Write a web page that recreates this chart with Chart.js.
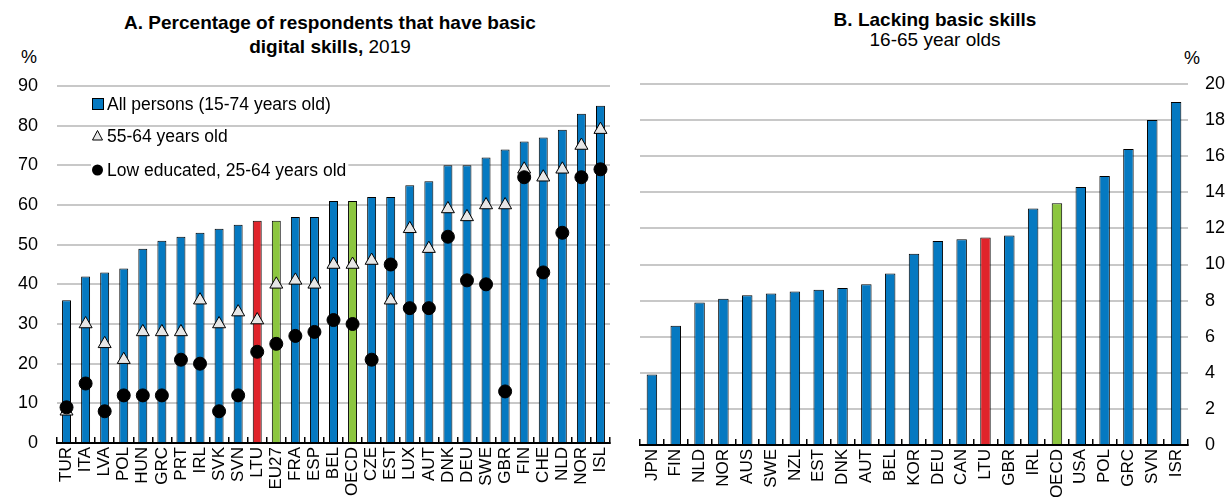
<!DOCTYPE html>
<html>
<head>
<meta charset="utf-8">
<script src="https://cdn.jsdelivr.net/npm/chart.js@4.4.1/dist/chart.umd.min.js"></script>
<style>
  html, body { margin: 0; padding: 0; background: #fff; }
  body { width: 1231px; height: 497px; position: relative; overflow: hidden;
         font-family: 'Liberation Sans', Arial, sans-serif; color: #000; }
  .box { position: absolute; top: 0; }
  .title { position: absolute; text-align: center; font-size: 19px; white-space: nowrap; }
  .unit { position: absolute; font-size: 18px; }
</style>
</head>
<body>
<div class="title" style="left:30px; width:600px; top:11px; line-height:24px;">
  <b>A. Percentage of respondents that have basic</b><br><b>digital skills,</b> 2019
</div>
<div class="title" style="left:735px; width:400px; top:10px; line-height:20px;">
  <b>B. Lacking basic skills</b><br>16-65 year olds
</div>
<div class="unit" style="left:21px; top:47px;">%</div>
<div class="unit" style="left:1184px; top:48px;">%</div>

<div class="box" style="left:0; width:620px; height:497px;"><canvas id="chartA" width="620" height="497"></canvas></div>
<div class="box" style="left:615px; width:616px; height:497px;"><canvas id="chartB" width="616" height="497"></canvas></div>

<script>
// Panel A: share of respondents with basic digital skills, 2019
const countriesA = ['TUR','ITA','LVA','POL','HUN','GRC','PRT','IRL','SVK','SVN','LTU','EU27','FRA','ESP','BEL','OECD','CZE','EST','LUX','AUT','DNK','DEU','SWE','GBR','FIN','CHE','NLD','NOR','ISL'];
const allPersons = [36,42,43,44,49,51,52,53,54,55,56,56,57,57,61,61,62,62,65,66,70,70,72,74,76,77,79,83,85];
const aged5564   = [8,30,25,21,28,28,28,36,30,33,31,40,41,40,45,45,46,36,54,49,59,57,60,60,69,67,69,75,79];
const lowEducated = [9,15,8,12,12,12,21,20,8,12,23,25,27,28,31,30,21,45,34,34,52,41,40,13,67,43,53,67,69];
const ticksA = [0,10,20,30,40,50,60,70,80,90];

// Panel B: adults lacking basic skills, 16-65 year olds
const countriesB = ['JPN','FIN','NLD','NOR','AUS','SWE','NZL','EST','DNK','AUT','BEL','KOR','DEU','CAN','LTU','GBR','IRL','OECD','USA','POL','GRC','SVN','ISR'];
const lackingSkills = [3.9,6.6,7.9,8.1,8.3,8.4,8.5,8.6,8.7,8.9,9.5,10.6,11.3,11.4,11.5,11.6,13.1,13.4,14.3,14.9,16.4,18.0,19.0];
const ticksB = [0,2,4,6,8,10,12,14,16,18,20];

const legendLabels = ['All persons (15-74 years old)', '55-64 years old', 'Low educated, 25-64 years old'];

const BLUE = '#0579c1', RED = '#e0242b', GREEN = '#8cc63f', GRID = '#c8c8c8', TRI = '#e6e6e6';
const FONT = "'Liberation Sans', Arial, sans-serif";

function barColour(c) {
  if (c === 'LTU') return RED;
  if (c === 'EU27' || c === 'OECD') return GREEN;
  return BLUE;
}

// Legend drawn inside the plot area of panel A
const insideLegend = {
  id: 'insideLegend',
  afterDraw(chart) {
    const ctx = chart.ctx;
    const x0 = 92, tx = 107;
    const rows = [104, 136, 170];
    ctx.save();
    ctx.font = '17.5px ' + FONT;
    ctx.textBaseline = 'middle';
    ctx.textAlign = 'left';
    rows.forEach((y, i) => {
      const w = ctx.measureText(legendLabels[i]).width;
      ctx.fillStyle = '#fff';
      ctx.fillRect(x0 - 1, y - 8, tx - x0 + w + 3, 16);
    });
    // bar swatch
    ctx.fillStyle = BLUE; ctx.strokeStyle = '#000'; ctx.lineWidth = 1;
    ctx.fillRect(92.5, rows[0] - 5.5, 11, 11);
    ctx.strokeRect(92.5, rows[0] - 5.5, 11, 11);
    // triangle marker
    ctx.beginPath();
    ctx.moveTo(97.5, rows[1] - 5.5);
    ctx.lineTo(102.5, rows[1] + 4);
    ctx.lineTo(92.5, rows[1] + 4);
    ctx.closePath();
    ctx.fillStyle = TRI; ctx.fill(); ctx.stroke();
    // circle marker
    ctx.beginPath();
    ctx.arc(97.5, rows[2], 5.5, 0, Math.PI * 2);
    ctx.fillStyle = '#000'; ctx.fill();
    ctx.fillStyle = '#000';
    rows.forEach((y, i) => ctx.fillText(legendLabels[i], tx, y + 1));
    ctx.restore();
  }
};

// Category axis: short tick marks pointing up into the plot at category boundaries
function xScale(height) {
  return {
    offset: true,
    grid: { offset: true, drawOnChartArea: false, drawTicks: true, tickLength: -6, color: '#000', lineWidth: 1.5 },
    border: { display: true, color: '#000', width: 2 },
    ticks: { autoSkip: false, minRotation: 90, maxRotation: 90, padding: 10, color: '#000', font: { family: FONT, size: 17 } },
    afterFit(s) { s.height = height; s.paddingLeft = 0; s.paddingRight = 0; }
  };
}

function yScale(max, step, list, width, pos, pad) {
  return {
    position: pos,
    min: 0, max: max,
    grid: { color: GRID, lineWidth: 2, drawTicks: false },
    border: { display: false },
    afterBuildTicks(s) { s.ticks = list.map(v => ({ value: v })); },
    ticks: { stepSize: step, padding: pad, color: '#000', font: { family: FONT, size: 18 } },
    afterFit(s) { s.width = width; s.paddingTop = 0; s.paddingBottom = 0; }
  };
}

new Chart(document.getElementById('chartA'), {
  type: 'bar',
  data: {
    labels: countriesA,
    datasets: [
      { type: 'line', label: legendLabels[2], data: lowEducated, showLine: false, order: 1,
        pointStyle: 'circle', pointRadius: 6.5, pointBackgroundColor: '#000', pointBorderColor: '#000', pointBorderWidth: 1 },
      { type: 'line', label: legendLabels[1], data: aged5564, showLine: false, order: 2,
        pointStyle: 'triangle', pointRadius: 7.5, pointBackgroundColor: TRI, pointBorderColor: '#000', pointBorderWidth: 1 },
      { type: 'bar', label: legendLabels[0], data: allPersons, order: 3,
        backgroundColor: countriesA.map(barColour), borderColor: '#000', borderWidth: 1,
        barPercentage: 0.47, categoryPercentage: 1 }
    ]
  },
  options: {
    responsive: false, animation: false,
    layout: { padding: { top: 86, right: 10, left: 0, bottom: 0 } },
    plugins: { legend: { display: false }, tooltip: { enabled: false }, title: { display: false } },
    scales: { x: xScale(54), y: yScale(90, 10, ticksA, 57, 'left', 19) }
  },
  plugins: [insideLegend]
});

new Chart(document.getElementById('chartB'), {
  type: 'bar',
  data: {
    labels: countriesB,
    datasets: [
      { label: 'Lacking basic skills', data: lackingSkills,
        backgroundColor: countriesB.map(barColour), borderColor: '#000', borderWidth: 1,
        barPercentage: 0.44, categoryPercentage: 1 }
    ]
  },
  options: {
    responsive: false, animation: false,
    layout: { padding: { top: 84, right: 0, left: 25, bottom: 0 } },
    plugins: { legend: { display: false }, tooltip: { enabled: false }, title: { display: false } },
    scales: { x: xScale(52), y: yScale(20, 2, ticksB, 43, 'right', 17) }
  }
});
</script>
</body>
</html>
